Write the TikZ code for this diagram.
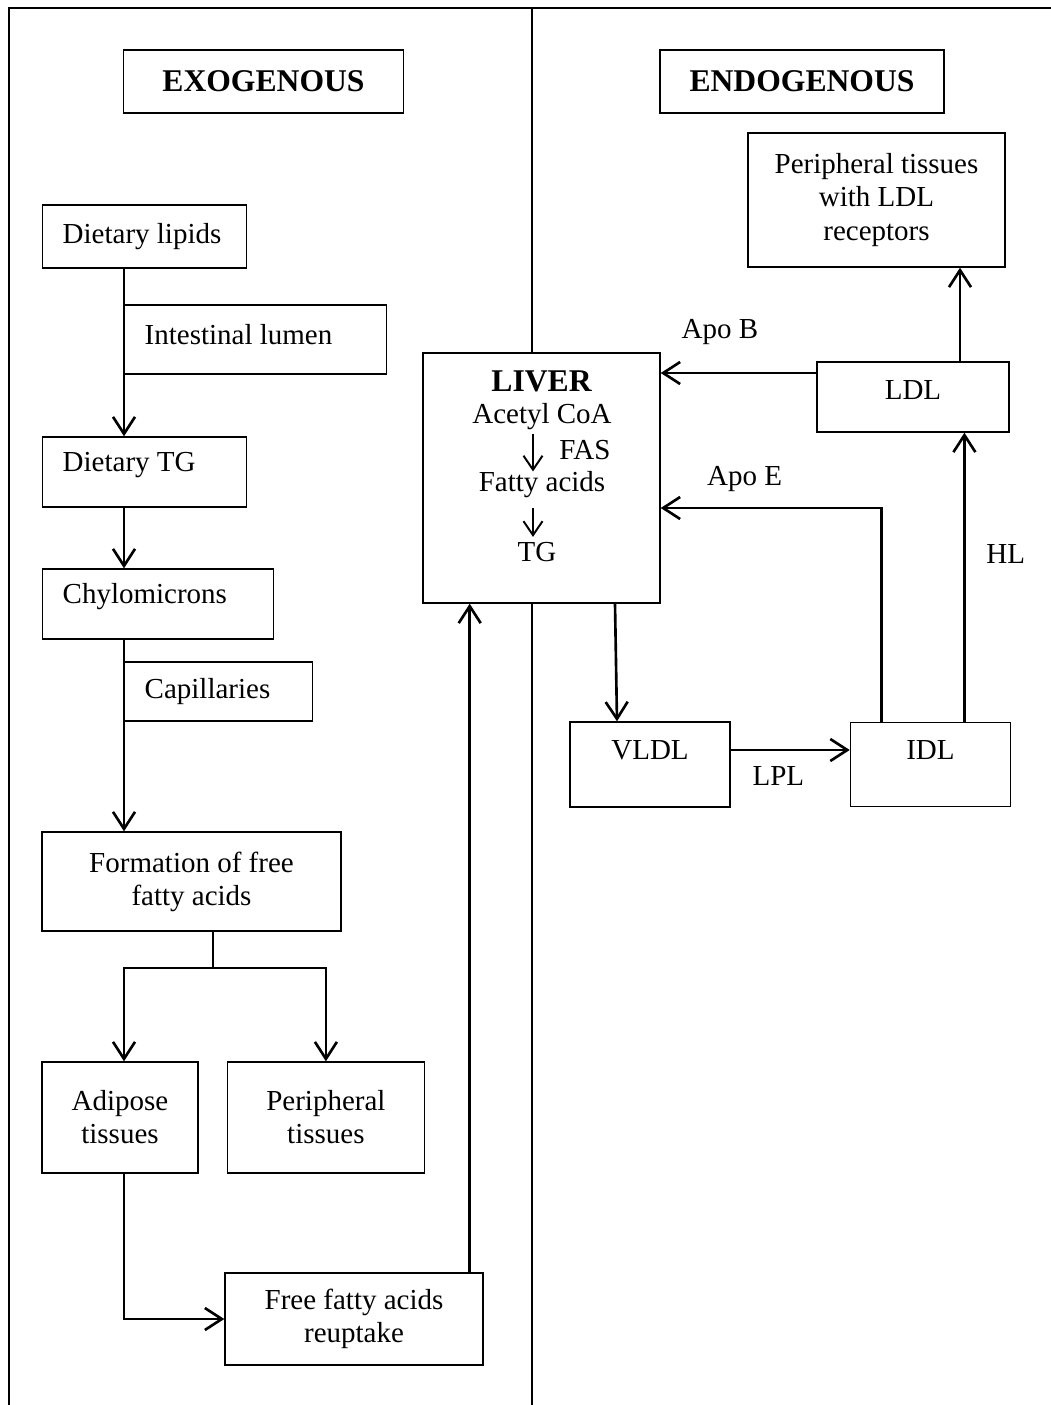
\documentclass[tikz,border=0pt]{standalone}
\usepackage{fontspec}
\setmainfont{Liberation Serif}
\usepackage{tikz}
\usetikzlibrary{arrows.meta,positioning}

\begin{document}
\begin{tikzpicture}[
  x=0.2mm,
  y=-0.2mm,
  font=\fontsize{16.5}{18.8}\selectfont,
  box/.style={
    draw,
    line width=0.8pt,
    align=center,
    inner sep=1pt
  },
  lbox/.style={
    box,
    align=flush left,
    inner xsep=4mm,
    inner ysep=0pt,
    text width=#1
  },
  headbox/.style={
    box,
    minimum width=56mm,
    minimum height=12.6mm,
    font=\bfseries\fontsize{18}{21}\selectfont
  },
  txt/.style={inner sep=0pt},
  lbl/.style={inner sep=1.5pt},
  link/.style={line width=1.5pt},
  arr/.style={
    link,
    -{Straight Barb[length=3.4mm,width=4.4mm]}
  },
  inarr/.style={
    line width=1.1pt,
    -{Straight Barb[length=2.8mm,width=3.8mm]}
  },
  divline/.style={line width=1pt}
]

\useasboundingbox (0,0) rectangle (1051,1405);

\draw[divline] (9,1405) -- (9,8) -- (1051,8);
\draw[divline] (532,8) -- (532,1405);

\node[headbox] (exo) at (263.5,81.5) {EXOGENOUS};
\node[headbox, minimum width=56.8mm] (endo) at (802,81.5) {ENDOGENOUS};

\node[lbox=32.8mm, minimum height=12.6mm, anchor=west] (lipids) at (42,236.5) {Dietary lipids};
\node[lbox=44.4mm, minimum height=13.8mm, text depth=2.2mm, anchor=west] (lumen) at (124,339.5) {Intestinal lumen};
\node[lbox=32.8mm, minimum height=14mm, text depth=4.1mm, anchor=west] (dtg) at (42,472) {Dietary TG};
\node[lbox=38.2mm, minimum height=14mm, text depth=4.1mm, anchor=west] (chylo) at (42,604) {Chylomicrons};
\node[lbox=29.6mm, minimum height=11.8mm, anchor=west] (capil) at (124,691.5) {Capillaries};

\node[box, minimum width=59.8mm, minimum height=19.8mm] (ffa) at (191.5,881.5) {Formation of free\\ fatty acids};
\node[box, minimum width=31.2mm, minimum height=22.2mm] (adipose) at (120,1117.5) {Adipose\\ tissues};
\node[box, minimum width=39.4mm, minimum height=22.2mm, right=5.6mm of adipose] (periph) {Peripheral\\ tissues};
\node[box, minimum width=51.6mm, minimum height=18.4mm] (reup) at (354,1319) {Free fatty acids\\ reuptake};

\node[
  box,
  fill=white,
  minimum width=47.4mm,
  minimum height=50mm,
  label={[font=\bfseries\fontsize{18}{21}\selectfont, anchor=north, inner sep=0pt, yshift=-3.7mm]north:LIVER}
] (liver) at (541.5,478) {};

\node[txt] (acetyl) at (542,417) {Acetyl CoA};
\node[txt] (fas) at (585,450) {FAS};
\node[txt] (fatty) at (542,485) {Fatty acids};
\node[txt] (tg) at (537,552) {TG};

\node[box, minimum width=51.4mm, minimum height=26.8mm] (ptissue) at (876.5,200) {Peripheral tissues\\ with LDL\\ receptors};
\node[box, minimum width=38.4mm, minimum height=14mm, text depth=2.8mm] (ldl) at (913,397) {LDL};
\node[box, minimum width=32mm, minimum height=17mm, text depth=5.8mm] (vldl) at (650,764.5) {VLDL};
\node[box, minimum width=32mm, minimum height=16.8mm, text depth=5.8mm, right=23.8mm of vldl] (idl) {IDL};

\coordinate (fork) at (213,968);

\draw[arr] (lipids.south -| lumen.west) -- (dtg.north -| lumen.west);
\draw[arr] (dtg.south -| lumen.west) -- (chylo.north -| lumen.west);
\draw[arr] (chylo.south -| capil.west) -- (ffa.north -| capil.west);

\draw[link] (ffa.south -| fork) -- (fork);
\draw[arr] (fork) -| (adipose.north -| capil.west);
\draw[arr] (fork) -| (periph.north);

\draw[arr] (adipose.south -| capil.west) |- (reup.west);
\draw[arr] ([xshift=-2.8mm]reup.north east) -- ([xshift=-2.8mm]reup.north east |- liver.south);

\draw[inarr, shorten <=0.6mm] ([xshift=-1.8mm]acetyl.south) -- ([xshift=-1.8mm]acetyl.south |- fatty.north);
\draw[inarr, shorten <=1.8mm, shorten >=1mm] ([xshift=-1.8mm]fatty.south) -- ([xshift=-1.8mm]fatty.south |- tg.north);

\draw[arr] ([xshift=14.7mm]liver.south) -- ([xshift=-6.6mm]vldl.north);
\draw[arr] ([yshift=2.9mm]vldl.east) -- ([yshift=2.9mm]vldl.east -| idl.west)
  node[lbl, below=2.5mm, pos=0.4] {LPL};
\draw[arr] ([xshift=-9.8mm]idl.north) |- ([yshift=-6mm]liver.east)
  node[lbl, above=2.5mm, pos=0.81] {Apo E};
\draw[arr] ([xshift=6.8mm]idl.north) -- ([xshift=6.8mm]idl.north |- ldl.south)
  node[lbl, right=3.6mm, pos=0.58] {HL};
\draw[arr] ([yshift=4.8mm]ldl.west) -- ([yshift=4.8mm]ldl.west -| liver.east)
  node[lbl, above=4.9mm, pos=0.62] {Apo B};
\draw[arr] ([xshift=9.4mm]ldl.north) -- ([xshift=9.4mm]ldl.north |- ptissue.south);

\end{tikzpicture}
\end{document}
